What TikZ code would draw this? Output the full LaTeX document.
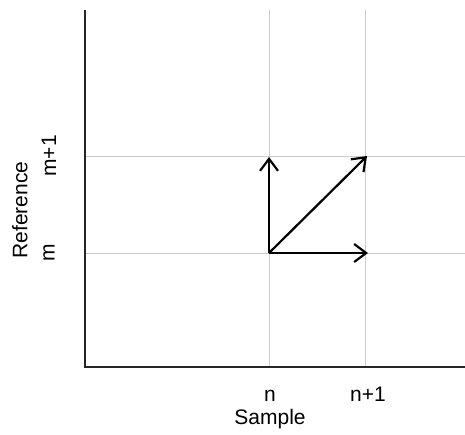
\documentclass[tikz,border=0pt]{standalone}
\usepackage{fontspec}
\setmainfont{Liberation Sans}
\usetikzlibrary{arrows.meta}
\begin{document}
\begin{tikzpicture}[x=1pt,y=-1pt,
  axis/.style={line width=1.6pt,black!85},
  gridln/.style={line width=0.6pt,black!20},
  vec/.style={line width=2.2pt,-{Straight Barb[length=12pt,width=18pt,line width=2.2pt]}},
  lbl/.style={font=\fontsize{21}{24}\selectfont,inner sep=0pt}]
\useasboundingbox (0,0) rectangle (465,434);
\coordinate (top) at (85,10);
\coordinate (origin) at (85,367);
\coordinate (right) at (465,367);
% grid
\coordinate (gn0) at (269,10); \coordinate (gn1) at (269,367);
\coordinate (gp0) at (365,10); \coordinate (gp1) at (365,367);
\coordinate (gm0) at (85,253); \coordinate (gm1) at (465,253);
\coordinate (gq0) at (85,156); \coordinate (gq1) at (465,156);
\draw[gridln] (gn0) -- (gn1);
\draw[gridln] (gp0) -- (gp1);
\draw[gridln] (gm0) -- (gm1);
\draw[gridln] (gq0) -- (gq1);
\draw[axis] (top) -- (origin) -- (right);
% vectors
\coordinate (p) at (269,253);
\coordinate (up) at (269,157);
\coordinate (rt) at (368,253);
\coordinate (dg) at (367,156);
\draw[vec] (p) -- (up);
\draw[vec] (p) -- (rt);
\draw[vec] (p) -- (dg);
% labels
\node[lbl] (ln) at (270,396) {n};
\node[lbl] (ln1) at (368,394) {n+1};
\node[lbl] (ls) at (270,419) {Sample};
\node[lbl,rotate=90] (lm) at (49,253) {m};
\node[lbl,rotate=90] (lm1) at (49,156) {m+1};
\node[lbl,rotate=90] (lr) at (20,210) {Reference};
\end{tikzpicture}
\end{document}
